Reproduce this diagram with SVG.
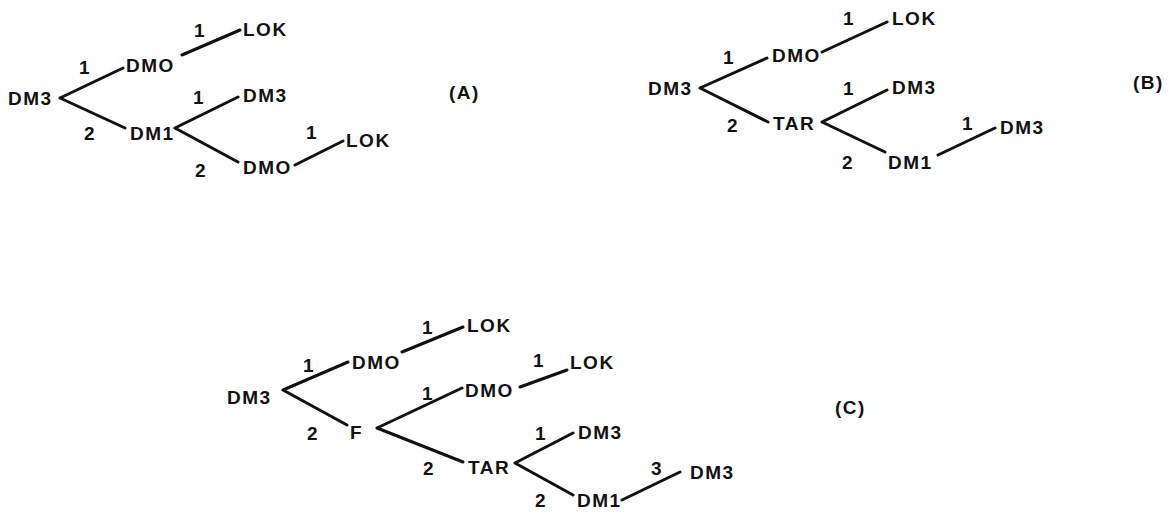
<svg xmlns="http://www.w3.org/2000/svg" width="1175" height="513" viewBox="0 0 1175 513">
<style>
text{font-family:"Liberation Sans",Arial,sans-serif;font-weight:bold;font-size:19px;fill:#111;letter-spacing:1.5px}
.e{fill:none;stroke:#111;stroke-width:3;stroke-linecap:round}
</style>
<rect width="1175" height="513" fill="#fff"/>
<g id="connectors">
<path class="e" d="M60,98 L123,68 M60,98 L125,128 M182,55 L240,30 M175,128 L238,97 M175,128 L238,162 M295,165 L343,141"/>
<path class="e" d="M700,88 L767,58 M700,88 L768,122 M822,52 L887,22 M822,122 L887,90 M822,122 L885,152 M938,155 L995,128"/>
<path class="e" d="M283,390 L348,362 M283,390 L347,425 M402,352 L463,327 M377,428 L462,388 M377,428 L463,462 M520,387 L567,370 M515,463 L573,433 M515,463 L573,495 M622,500 L680,472"/>
<g id="edge-labels">
<text x="79" y="74">1</text><text x="84" y="140">2</text><text x="194" y="37">1</text><text x="193" y="104">1</text><text x="195" y="177">2</text><text x="306" y="139">1</text>
<text x="723" y="64">1</text><text x="727" y="132">2</text><text x="843" y="25">1</text><text x="843" y="95">1</text><text x="842" y="169">2</text><text x="962" y="130">1</text>
<text x="303" y="372">1</text><text x="307" y="440">2</text><text x="422" y="334">1</text><text x="422" y="400">1</text><text x="423" y="475">2</text><text x="533" y="367">1</text><text x="535" y="440">1</text><text x="535" y="507">2</text><text x="651" y="475">3</text>
</g>
</g>
<g id="tree-A">
<g id="a-dm3"><text x="8" y="105">DM3</text></g>
<g id="a-dmo1"><text x="126" y="72">DMO</text></g>
<g id="a-lok1"><text x="243" y="36">LOK</text></g>
<g id="a-dm1"><text x="130" y="140">DM1</text></g>
<g id="a-dm3b"><text x="243" y="102">DM3</text></g>
<g id="a-dmo2"><text x="243" y="174">DMO</text></g>
<g id="a-lok2"><text x="346" y="147">LOK</text></g>
<g id="a-label"><text x="449" y="99">(A)</text></g>
</g>
<g id="tree-B">
<g id="b-dm3"><text x="648" y="95">DM3</text></g>
<g id="b-dmo"><text x="772" y="62">DMO</text></g>
<g id="b-lok"><text x="892" y="25">LOK</text></g>
<g id="b-tar"><text x="773" y="130">TAR</text></g>
<g id="b-dm3b"><text x="892" y="94">DM3</text></g>
<g id="b-dm1"><text x="888" y="169">DM1</text></g>
<g id="b-dm3c"><text x="1000" y="134">DM3</text></g>
<g id="b-label"><text x="1133" y="89">(B)</text></g>
</g>
<g id="tree-C">
<g id="c-dm3"><text x="227" y="404">DM3</text></g>
<g id="c-dmo1"><text x="352" y="369">DMO</text></g>
<g id="c-lok1"><text x="467" y="332">LOK</text></g>
<g id="c-f"><text x="350" y="439">F</text></g>
<g id="c-dmo2"><text x="465" y="397">DMO</text></g>
<g id="c-lok2"><text x="570" y="369">LOK</text></g>
<g id="c-tar"><text x="468" y="474">TAR</text></g>
<g id="c-dm3b"><text x="578" y="439">DM3</text></g>
<g id="c-dm1"><text x="577" y="507">DM1</text></g>
<g id="c-dm3c"><text x="690" y="479">DM3</text></g>
<g id="c-label"><text x="835" y="414">(C)</text></g>
</g>
</svg>
